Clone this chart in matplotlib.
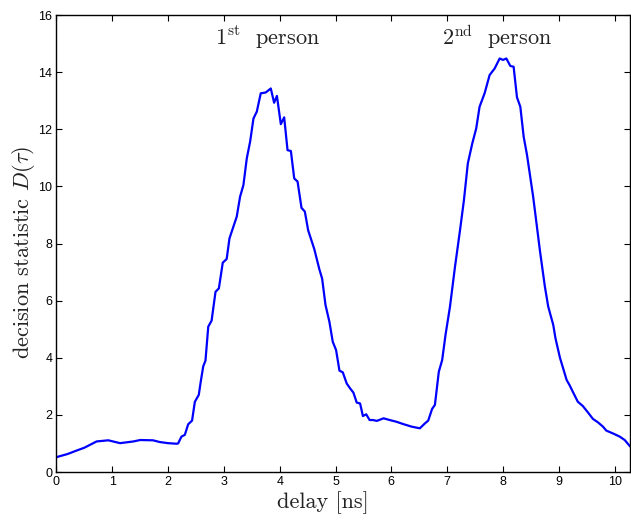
import matplotlib
matplotlib.use("Agg")
import matplotlib.pyplot as plt

plt.rcParams['mathtext.fontset'] = 'cm'
plt.rcParams['axes.formatter.use_mathtext'] = False

# delay [ns] and decision statistic D(tau)
delay = [0.00, 0.20, 0.36, 0.50, 0.72, 0.93, 1.14, 1.38, 1.50, 1.73, 1.85, 2.00,
         2.15, 2.18, 2.24, 2.30, 2.36, 2.43, 2.48, 2.55, 2.59, 2.63, 2.67, 2.72,
         2.78, 2.85, 2.91, 2.98, 3.05, 3.10, 3.17, 3.23, 3.29, 3.35, 3.41, 3.47,
         3.53, 3.59, 3.66, 3.75, 3.84, 3.90, 3.95, 4.02, 4.08, 4.14, 4.20, 4.26,
         4.32, 4.39, 4.45, 4.51, 4.62, 4.71, 4.76, 4.82, 4.89, 4.95, 5.01, 5.07,
         5.13, 5.20, 5.26, 5.32, 5.38, 5.44, 5.49, 5.55, 5.61, 5.67, 5.74, 5.86,
         5.97, 6.09, 6.21, 6.36, 6.51, 6.60, 6.66, 6.73, 6.78, 6.85, 6.91, 6.97,
         7.05, 7.14, 7.23, 7.30, 7.37, 7.45, 7.52, 7.58, 7.67, 7.76, 7.85, 7.94,
         8.00, 8.06, 8.13, 8.19, 8.25, 8.31, 8.37, 8.43, 8.54, 8.66, 8.75, 8.81,
         8.90, 8.94, 9.02, 9.14, 9.19, 9.25, 9.34, 9.43, 9.52, 9.61, 9.70, 9.79,
         9.85, 9.97, 10.09, 10.18, 10.27]
statistic = [0.52, 0.63, 0.75, 0.85, 1.07, 1.11, 1.01, 1.07, 1.12, 1.11, 1.05, 1.01,
             0.99, 1.00, 1.24, 1.30, 1.67, 1.80, 2.46, 2.70, 3.22, 3.70, 3.90, 5.09,
             5.30, 6.31, 6.43, 7.33, 7.46, 8.18, 8.59, 8.94, 9.64, 10.05, 10.98, 11.57,
             12.38, 12.62, 13.26, 13.29, 13.43, 12.93, 13.17, 12.18, 12.42, 11.27, 11.24, 10.28,
             10.17, 9.25, 9.12, 8.46, 7.80, 7.10, 6.77, 5.85, 5.26, 4.56, 4.27, 3.55,
             3.49, 3.10, 2.93, 2.78, 2.43, 2.40, 1.96, 2.02, 1.82, 1.82, 1.79, 1.88,
             1.82, 1.76, 1.68, 1.59, 1.53, 1.70, 1.80, 2.21, 2.35, 3.51, 3.92, 4.80,
             5.79, 7.19, 8.47, 9.52, 10.81, 11.51, 12.03, 12.79, 13.26, 13.90, 14.13, 14.48,
             14.43, 14.48, 14.22, 14.19, 13.12, 12.79, 11.74, 11.10, 9.64, 7.77, 6.49, 5.79,
             5.15, 4.68, 4.00, 3.22, 3.05, 2.81, 2.46, 2.31, 2.09, 1.86, 1.74, 1.59,
             1.45, 1.35, 1.24, 1.12, 0.91]

x_ticks = list(range(0, 11))
y_ticks = list(range(0, 17, 2))
peak_labels = [r"1$^{\rm st}$  person", r"2$^{\rm nd}$  person"]
peak_label_x = [3.78, 7.90]

fig = plt.figure(figsize=(6.31, 5.2), dpi=100)
ax = fig.add_axes([0.0894, 0.0923, 0.9086, 0.8787])
ax.plot(delay, statistic, color=(0, 0, 1), linewidth=1.6)

ax.set_xlim(0, 10.27)
ax.set_ylim(0, 16)
ax.set_xticks(x_ticks)
ax.set_yticks(y_ticks)
ax.tick_params(direction='in', top=True, right=True, length=4, width=0.8,
               labelsize=9, pad=3)
for lab in ax.get_xticklabels() + ax.get_yticklabels():
    lab.set_family('Liberation Sans')
for sp in ax.spines.values():
    sp.set_linewidth(1.0)

ax.set_xlabel("delay [ns]", family='cmr10', fontsize=16, color='#222222')
ax.set_ylabel(r"decision statistic $D(\tau)$", family='cmr10', fontsize=16,
              color='#222222')
ax.xaxis.set_label_coords(0.465, -0.042)
ax.yaxis.set_label_coords(-0.033, 0.481)

for lbl, xp in zip(peak_labels, peak_label_x):
    ax.text(xp, 14.95, lbl, family='cmr10', fontsize=16, ha='center',
            va='baseline', color='#222222')

fig.savefig("out.png", dpi=100)
